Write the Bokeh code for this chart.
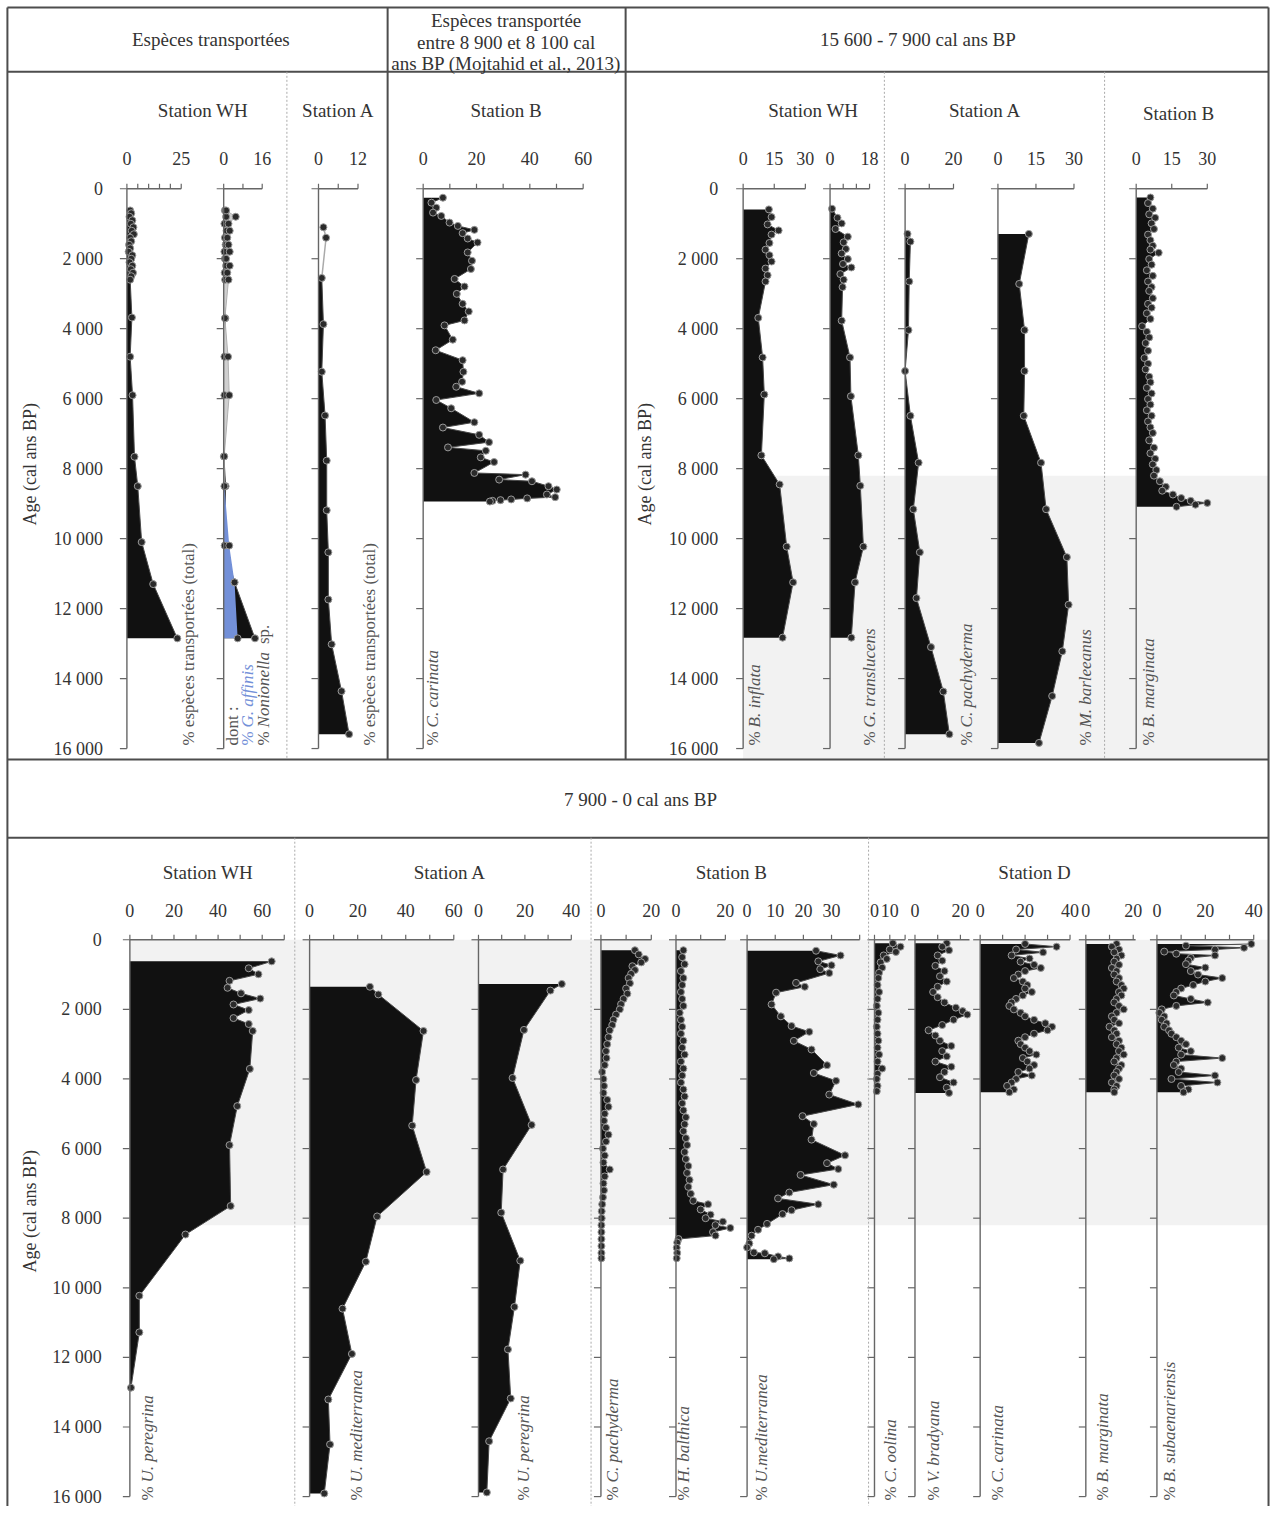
import numpy as np
from bokeh.plotting import figure
from bokeh.models import Range1d
from bokeh.embed import file_html
from bokeh.resources import INLINE
from bokeh.core.properties import value

# ------------------------------------------------------------------ data
AGE_MAX = 16000
AGE_TICKS = [0, 2000, 4000, 6000, 8000, 10000, 12000, 14000, 16000]
AGE_LABELS = ["0", "2 000", "4 000", "6 000", "8 000", "10 000", "12 000", "14 000", "16 000"]
SHADE_AGE = 8200

# --- Top: transported species
wh_tot_age = [620, 700, 800, 900, 1000, 1100, 1200, 1300, 1400, 1500, 1600, 1700, 1800, 1900, 2000,
              2100, 2200, 2300, 2400, 2500, 2600, 3680, 4800, 5900, 7660, 8500, 10100, 11300, 12850]
wh_tot_val = [1.5, 2.0, 1.2, 2.5, 1.8, 3.0, 2.2, 3.2, 1.5, 2.0, 1.0, 1.5, 0.8, 2.5, 2.0,
              1.2, 2.5, 1.8, 2.8, 2.0, 1.5, 2.3, 1.5, 2.6, 3.5, 5.0, 6.8, 12.1, 23.2]

wh_sub_age = [620, 800, 1000, 1200, 1400, 1600, 1800, 2000, 2200, 2400, 2600, 3700, 4800, 5900,
              7650, 8500, 10200, 11250, 12850]
nonio_val = [0.5, 1.0, 0.3, 1.2, 0.5, 0.8, 0.3, 0.5, 1.0, 0.4, 0.6, 0.7, 0.3, 0.3,
             0.1, 0.8, 0.4, 4.5, 13.0]
affin_val = [1.0, 5.0, 2.0, 2.5, 1.5, 2.0, 2.5, 1.0, 2.5, 1.5, 2.0, 0.5, 1.8, 2.3,
             0.2, 0.3, 2.3, 4.5, 5.8]

a_tot_age = [1100, 1400, 2550, 3870, 5230, 6480, 7770, 9190, 10390, 11740, 13020, 14360, 15590]
a_tot_val = [1.5, 2.3, 1.0, 1.5, 1.0, 2.0, 2.5, 2.5, 3.0, 3.0, 4.0, 7.0, 9.3]

car_top_age = [256, 398, 540, 682, 777, 967, 1062, 1175, 1270, 1422, 1535, 1820, 2057, 2294, 2578,
               2796, 3005, 3289, 3507, 3763, 3905, 4313, 4616, 4900, 5232, 5517, 5659, 5848, 6038,
               6275, 6673, 6825, 7033, 7242, 7393, 7488, 7678, 7810, 8123, 8171, 8313, 8360, 8502,
               8597, 8739, 8815, 8850, 8880, 8900, 8920, 8940]
car_top_val = [7.4, 3.1, 4.9, 3.7, 6.8, 9.9, 13.0, 19.2, 14.8, 16.7, 20.4, 16.7, 18.3, 17.9, 11.8,
               15.5, 12.6, 14.8, 17.1, 15.5, 8.0, 11.1, 4.7, 14.8, 15.1, 14.6, 12.4, 21.0, 4.9,
               10.5, 19.2, 7.4, 21.0, 24.7, 9.3, 23.5, 21.6, 26.6, 19.2, 38.4, 28.5, 40.8, 47.0,
               50.1, 46.4, 49.5, 39.0, 33.0, 29.0, 26.0, 25.0]

# --- Top: 15 600 - 7 900 cal ans BP
infl_age = [590, 810, 1020, 1190, 1310, 1550, 1740, 1900, 2080, 2280, 2470, 2650, 3690, 4820,
            5880, 7620, 8450, 10230, 11250, 12830]
infl_val = [12.4, 13.7, 11.8, 17.1, 13.7, 12.7, 10.8, 12.7, 13.7, 10.8, 11.8, 10.8, 7.3, 9.4,
            10.2, 8.8, 17.6, 21.0, 24.1, 19.0]
tran_age = [570, 830, 990, 1150, 1370, 1530, 1720, 1850, 2010, 2150, 2250, 2440, 2600, 2810,
            3770, 4820, 5930, 7620, 8490, 10230, 11250, 12830]
tran_val = [0.9, 3.4, 5.3, 2.5, 8.1, 6.2, 7.2, 5.3, 8.1, 5.9, 9.7, 4.7, 6.2, 5.7,
            5.3, 9.1, 9.5, 12.9, 13.8, 15.2, 11.4, 9.7]
pach_top_age = [1290, 1510, 2650, 4040, 5210, 6490, 7830, 9160, 10390, 11700, 13100, 14370, 15590]
pach_top_val = [1.0, 2.2, 1.7, 1.4, 0.0, 2.2, 5.6, 3.4, 6.1, 4.7, 10.7, 15.8, 18.3]
barl_age = [1290, 2720, 4040, 5210, 6490, 7830, 9160, 10530, 11890, 13220, 14500, 15840]
barl_val = [12.2, 8.4, 10.5, 10.5, 10.2, 17.0, 19.0, 27.2, 27.9, 25.4, 21.4, 16.2]
marg_top_age = [250, 410, 570, 730, 830, 990, 1150, 1310, 1470, 1630, 1740, 1830, 2010, 2170, 2330,
                2490, 2650, 2810, 2920, 3130, 3290, 3400, 3560, 3720, 3930, 4090, 4250, 4410, 4630,
                4840, 5000, 5160, 5370, 5530, 5690, 5850, 6010, 6170, 6330, 6490, 6650, 6820, 6980,
                7190, 7400, 7560, 7720, 7880, 8040, 8200, 8360, 8520, 8630, 8740, 8840, 8920, 8980,
                9030, 9090]
marg_top_val = [6.0, 5.0, 7.0, 5.5, 8.0, 6.5, 7.5, 5.0, 6.0, 7.0, 6.0, 9.5, 5.5, 6.5, 4.5,
                7.0, 5.0, 6.5, 5.5, 7.0, 5.0, 6.5, 4.5, 6.0, 2.5, 4.5, 5.5, 4.0, 5.0,
                3.5, 5.0, 4.0, 5.5, 6.0, 4.5, 6.5, 5.0, 6.0, 4.5, 6.5, 5.0, 6.0, 7.0,
                5.5, 7.5, 6.0, 8.0, 7.0, 8.5, 7.5, 10.0, 12.5, 11.0, 15.5, 19.0, 23.0, 30.0,
                25.0, 17.0]

# --- Bottom: 7 900 - 0 cal ans BP
uper_wh_age = [620, 820, 990, 1180, 1380, 1540, 1690, 1860, 2020, 2250, 2420, 2620, 3710, 4780,
               5900, 7650, 8470, 10230, 11280, 12870]
uper_wh_val = [64.3, 53.9, 58.3, 45.2, 44.3, 50.4, 59.1, 47.0, 53.9, 47.0, 53.9, 55.7, 54.4, 48.7,
               45.2, 45.7, 25.2, 4.3, 4.3, 0.5]
umed_a_age = [1350, 1570, 2620, 4030, 5340, 6670, 7950, 9250, 10600, 11900, 13210, 14500, 15910]
umed_a_val = [25.1, 28.6, 47.4, 44.3, 42.7, 48.7, 28.1, 23.4, 13.7, 17.6, 7.8, 8.5, 6.1]
uper_a_age = [1270, 1460, 2590, 3970, 5320, 6600, 7840, 9220, 10550, 11770, 13180, 14410, 15880]
uper_a_val = [35.9, 31.0, 19.6, 14.7, 22.9, 10.6, 9.8, 18.0, 15.5, 12.7, 13.9, 4.6, 3.6]

pach_b_age = [300, 420, 550, 650, 760, 870, 980, 1100, 1250, 1400, 1550, 1700, 1850, 2000, 2150,
              2300, 2450, 2600, 2800, 3000, 3200, 3400, 3600, 3800, 4000, 4200, 4400, 4600, 4800,
              5000, 5200, 5400, 5600, 5800, 6000, 6200, 6400, 6600, 6800, 7000, 7200, 7400, 7600,
              7800, 8000, 8200, 8400, 8600, 8800, 9000, 9150]
pach_b_val = [13.5, 15, 17.5, 16, 12.5, 13.5, 12, 11, 11.5, 10, 10.5, 9, 8, 7.5, 6,
              5, 4.5, 3.5, 3, 2.5, 2, 2.2, 1.5, 0.5, 1, 1.2, 1, 2.5, 3,
              1.5, 1.2, 2, 3, 2, 0.8, 1.5, 1, 3.5, 1.5, 1, 1.2, 0.8, 0.5,
              0.3, 0.3, 0.2, 0.2, 0.2, 0.2, 0.2, 0.2]
balt_age = [300, 500, 700, 900, 1100, 1300, 1500, 1700, 1900, 2100, 2300, 2500, 2700, 2900, 3100,
            3300, 3500, 3700, 3900, 4100, 4300, 4500, 4700, 4900, 5100, 5300, 5500, 5700, 5900,
            6100, 6300, 6500, 6700, 6900, 7100, 7300, 7500, 7600, 7750, 7900, 8000, 8100, 8200,
            8280, 8400, 8500, 8600, 8700, 8850, 9000, 9150]
balt_val = [3, 2.5, 3.5, 2, 3, 2.5, 2, 2.5, 3, 1.5, 2, 2.5, 2, 3, 2.5,
            3.5, 2, 3, 2.5, 2, 3, 3.5, 2.5, 3, 4, 3.5, 3, 4, 4.5,
            3.5, 4, 5, 4.5, 5.5, 5, 6, 7, 13, 10, 14, 12, 19, 16,
            22, 15, 16, 1, 0.5, 0.3, 0.5, 0.3]
umed_b_age = [315, 450, 620, 732, 845, 957, 1239, 1351, 1520, 1858, 2200, 2477, 2646, 2905, 3153,
              3604, 3829, 4054, 4448, 4730, 5068, 5293, 5743, 6194, 6419, 6588, 6757, 7038, 7263,
              7432, 7601, 7770, 7883, 8164, 8333, 8502, 8727, 8840, 8986, 9009, 9099, 9155, 9178]
umed_b_val = [24.5, 33.2, 25.3, 30.0, 26.0, 29.2, 17.4, 20.5, 10.3, 8.7, 12.0, 15.8, 22.1, 16.6, 22.9,
              28.4, 23.7, 31.6, 29.2, 39.5, 19.7, 23.7, 22.9, 34.8, 28.4, 32.4, 19.0, 30.8, 15.0,
              11.0, 25.3, 15.8, 12.6, 7.1, 3.9, 1.6, 0.8, 0.0, 2.4, 6.3, 11.0, 15.0, 9.5]

ool_age = [100, 200, 280, 350, 450, 550, 650, 800, 950, 1100, 1300, 1500, 1700, 1900, 2100, 2300,
           2500, 2700, 2900, 3100, 3300, 3500, 3700, 3850, 4000, 4200, 4350]
ool_val = [12, 17, 10, 14, 6, 8, 4, 5, 3, 2.5, 2, 3, 2, 1.5, 2.5, 2,
           1.5, 2, 2.5, 2, 3, 2, 5, 2, 1.5, 2, 1.5]
brad_age = [100, 200, 300, 450, 600, 750, 900, 1050, 1200, 1350, 1500, 1650, 1800, 1950, 2050, 2150,
            2300, 2450, 2600, 2750, 2900, 3050, 3200, 3350, 3500, 3650, 3800, 3950, 4100, 4250, 4400]
brad_val = [14, 12, 15, 10, 12, 9, 13, 11, 14, 10, 8, 10, 13, 18, 21, 23,
            17, 12, 6, 9, 11, 16, 12, 14, 9, 16, 13, 11, 17, 14, 15]
d_age = [120, 200, 280, 360, 450, 540, 630, 720, 810, 900, 1000, 1100, 1200, 1300, 1400, 1500,
         1600, 1700, 1800, 1900, 2000, 2100, 2200, 2300, 2400, 2500, 2600, 2700, 2800, 2900, 3000,
         3100, 3200, 3300, 3400, 3500, 3600, 3700, 3800, 3900, 4000, 4100, 4200, 4300, 4380]
car_d_val = [20, 34, 16, 28, 14, 22, 18, 24, 27, 20, 17, 15, 19, 21, 20, 23,
             19, 16, 14, 13, 15, 18, 20, 24, 29, 32, 30, 24, 20, 17, 18,
             20, 22, 25, 19, 21, 24, 22, 17, 23, 16, 14, 12, 15, 13]
marg_d_val = [13, 11, 14, 12, 15, 13, 12, 14, 11, 13, 12, 14, 13, 15, 16, 14,
              15, 13, 12, 14, 16, 13, 11, 12, 14, 10, 12, 13, 11, 14, 13,
              15, 14, 16, 13, 12, 15, 14, 13, 12, 14, 11, 13, 12, 12]
suba_age = [120, 170, 230, 280, 340, 400, 450, 520, 600, 700, 800, 900, 1000, 1100, 1200, 1300,
            1400, 1500, 1600, 1700, 1800, 1900, 2000, 2100, 2200, 2300, 2400, 2500, 2600, 2700,
            2800, 2900, 3000, 3100, 3200, 3300, 3400, 3500, 3600, 3700, 3800, 3900, 4000, 4100,
            4200, 4300, 4380]
suba_val = [39, 12, 36, 24, 3, 8, 24, 14, 13, 12, 20, 14, 17, 27, 20, 15,
            10, 8, 7, 14, 21, 8, 2, 1, 3, 2, 4, 3, 5, 6,
            8, 10, 12, 9, 14, 10, 27, 8, 7, 10, 9, 24, 6, 25,
            10, 13, 11]

# ------------------------------------------------------------------ style / layout
FONT = "Liberation Serif"
TXT = "#333333"
LAB = "#555555"
AX = "#666666"
BLUE = "#7390d8"
MK = 7
SEC_Y = {"top": (190, 755), "bot": (948, 1510)}
PAGE_W, PAGE_H = 1286, 1520

p = figure(width=1270, height=1506, x_range=Range1d(0, PAGE_W), y_range=Range1d(PAGE_H, 0),
           x_axis_location=None, y_axis_location=None, toolbar_location=None,
           output_backend="svg", min_border=0)
p.grid.visible = False
p.outline_line_color = None


def sec_sub(sec):
    return p.subplot(x_source=Range1d(0, PAGE_W), x_target=Range1d(0, PAGE_W),
                     y_source=Range1d(0, AGE_MAX), y_target=Range1d(*SEC_Y[sec]))


def panel_sub(sec, px0, px1, vref):
    return p.subplot(x_source=Range1d(0, vref), x_target=Range1d(px0, px1),
                     y_source=Range1d(0, AGE_MAX), y_target=Range1d(*SEC_Y[sec]))


# shading of the 8 200 interval
top_sec = sec_sub("top")
top_sec.quad(left=[752], right=[1284], top=[SHADE_AGE], bottom=[AGE_MAX * 1.02],
             fill_color="#f2f2f2", line_color=None)
bot_sec = sec_sub("bot")
bot_sec.quad(left=[131], right=[1284], top=[0], bottom=[SHADE_AGE],
             fill_color="#f2f2f2", line_color=None)


def pts(sub, vals, ages):
    sub.scatter(x=vals, y=ages, size=MK, fill_color="#2a2a2a", line_color="#9a9a9a", line_width=1)


def draw_series(sub, ages, vals, fill="#111111", line="#4a4a4a", area=True, points=True):
    if area:
        sub.harea(x1=[0] * len(vals), x2=vals, y=ages, fill_color=fill)
    sub.line(x=vals, y=ages, line_color=line, line_width=1)
    if points:
        pts(sub, vals, ages)


def draw_axes(sub, xmax, xticks, xlabels, ylab_off=None, xlab_off=-30):
    n = len(AGE_TICKS)
    sub.segment(x0=[0], y0=[0], x1=[0], y1=[AGE_MAX], line_color=AX, line_width=1.4)
    sub.segment(x0=[0], y0=[0], x1=[xmax], y1=[0], line_color=AX, line_width=1.4)
    sub.ray(x=[0] * n, y=AGE_TICKS, length=7, length_units="screen", angle=np.pi,
            line_color=AX, line_width=1.2)
    sub.ray(x=xticks, y=[0] * len(xticks), length=5, length_units="screen", angle=np.pi / 2,
            line_color=AX, line_width=1.2)
    sub.text(x=xlabels, y=[0] * len(xlabels), text=[str(v) for v in xlabels], y_offset=xlab_off,
             text_align="center", text_baseline="middle", text_font=value(FONT),
             text_font_size="18px", text_color=TXT)
    if ylab_off is not None:
        sub.text(x=[0] * n, y=AGE_TICKS, text=AGE_LABELS, x_offset=ylab_off,
                 text_align="right", text_baseline="middle", text_font=value(FONT),
                 text_font_size="18px", text_color=TXT)


def rng(a, b, s):
    return list(range(a, b + 1, s))


# ---------------- top section panels
s = panel_sub("top", 128, 183, 25)
draw_series(s, wh_tot_age, wh_tot_val)
draw_axes(s, 25, rng(0, 25, 5), [0, 25], ylab_off=-24)

s = panel_sub("top", 226, 265, 16)
draw_series(s, wh_sub_age, nonio_val, points=False)
k = wh_sub_age.index(8500)
s.harea(x1=[0] * (k + 1), x2=affin_val[:k + 1], y=wh_sub_age[:k + 1], fill_color="#cfcfcf")
s.line(x=affin_val[:k + 1], y=wh_sub_age[:k + 1], line_color="#b0b0b0", line_width=1)
s.harea(x1=[0] * (len(affin_val) - k), x2=affin_val[k:], y=wh_sub_age[k:], fill_color=BLUE)
pts(s, nonio_val, wh_sub_age)
pts(s, affin_val, wh_sub_age)
draw_axes(s, 16, [0, 8, 16], [0, 16])

s = panel_sub("top", 322, 362, 12)
s.line(x=a_tot_val[:3], y=a_tot_age[:3], line_color="#aaaaaa", line_width=1.5)
draw_series(s, a_tot_age[2:], a_tot_val[2:])
pts(s, a_tot_val[:2], a_tot_age[:2])
draw_axes(s, 12, [0, 6, 12], [0, 12])

s = panel_sub("top", 428, 590, 60)
draw_series(s, car_top_age, car_top_val)
draw_axes(s, 60, rng(0, 60, 10), [0, 20, 40, 60])

s = panel_sub("top", 752, 815, 30)
draw_series(s, infl_age, infl_val)
draw_axes(s, 30, [0, 15, 30], [0, 15, 30], ylab_off=-25)

s = panel_sub("top", 840, 880, 18)
draw_series(s, tran_age, tran_val)
draw_axes(s, 18, [0, 6, 12, 18], [0, 18])

s = panel_sub("top", 916, 965, 20)
draw_series(s, pach_top_age, pach_top_val)
draw_axes(s, 20, [0, 10, 20], [0, 20])

s = panel_sub("top", 1010, 1087, 30)
draw_series(s, barl_age, barl_val)
draw_axes(s, 30, [0, 15, 30], [0, 15, 30])

s = panel_sub("top", 1150, 1222, 30)
draw_series(s, marg_top_age, marg_top_val)
draw_axes(s, 30, [0, 15, 30], [0, 15, 30])

# ---------------- bottom section panels
s = panel_sub("bot", 131, 265, 60)
draw_series(s, uper_wh_age, uper_wh_val)
draw_axes(s, 70, rng(0, 70, 10), [0, 20, 40, 60], ylab_off=-28, xlab_off=-29)

s = panel_sub("bot", 313, 459, 60)
draw_series(s, umed_a_age, umed_a_val)
draw_axes(s, 60, rng(0, 60, 10), [0, 20, 40, 60], xlab_off=-29)

s = panel_sub("bot", 484, 578, 40)
draw_series(s, uper_a_age, uper_a_val)
draw_axes(s, 40, rng(0, 40, 10), [0, 20, 40], xlab_off=-29)

s = panel_sub("bot", 608, 659, 20)
draw_series(s, pach_b_age, pach_b_val)
draw_axes(s, 20, [0, 10, 20], [0, 20], xlab_off=-29)

s = panel_sub("bot", 684, 734, 20)
draw_series(s, balt_age, balt_val)
draw_axes(s, 20, [0, 10, 20], [0, 20], xlab_off=-29)

s = panel_sub("bot", 756, 870, 40)
draw_series(s, umed_b_age, umed_b_val)
draw_axes(s, 40, rng(0, 40, 10), [0, 10, 20, 30], xlab_off=-29)

s = panel_sub("bot", 885, 916, 20)
draw_series(s, ool_age, ool_val)
draw_axes(s, 20, [0, 10, 20], [0, 10], xlab_off=-29)

s = panel_sub("bot", 926, 972, 20)
draw_series(s, brad_age, brad_val)
draw_axes(s, 24, [0, 10, 20], [0, 20], xlab_off=-29)

s = panel_sub("bot", 992, 1083, 40)
draw_series(s, d_age, car_d_val)
draw_axes(s, 40, rng(0, 40, 10), [0, 20, 40], xlab_off=-29)

s = panel_sub("bot", 1099, 1147, 20)
draw_series(s, d_age, marg_d_val)
draw_axes(s, 21, [0, 10, 20], [0, 20], xlab_off=-29)

s = panel_sub("bot", 1171, 1269, 40)
draw_series(s, suba_age, suba_val)
draw_axes(s, 40, rng(0, 40, 10), [0, 20, 40], xlab_off=-29)

# ---------------- frame lines
p.segment(x0=[7, 7, 7, 7, 7, 1284, 392, 633], y0=[7, 72, 766, 845, 7, 7, 7, 7],
          x1=[1284, 1284, 1284, 1284, 7, 1284, 392, 633], y1=[7, 72, 766, 845, 1522, 1522, 766, 766],
          line_color="#4d4d4d", line_width=2)
p.segment(x0=[290, 895, 1118, 298, 598, 879], y0=[72, 72, 72, 845, 845, 845],
          x1=[290, 895, 1118, 298, 598, 879], y1=[766, 766, 766, 1522, 1522, 1522],
          line_color="#aaaaaa", line_width=1, line_dash="2 2")

# ---------------- header and station texts
hx = [213, 512, 512, 512, 929, 648,
      205, 342, 512, 823, 997, 1193, 210, 455, 740, 1047]
hy = [39, 20, 42, 64, 39, 806,
      111, 111, 111, 111, 111, 114, 880, 880, 880, 880]
ht = ["Espèces transportées", "Espèces transportée", "entre 8 900 et 8 100 cal",
      "ans BP (Mojtahid et al., 2013)", "15 600 - 7 900 cal ans BP", "7 900 - 0 cal ans BP",
      "Station WH", "Station A", "Station B", "Station WH", "Station A", "Station B",
      "Station WH", "Station A", "Station B", "Station D"]
p.text(x=hx, y=hy, text=ht, text_align="center", text_baseline="middle",
       text_font=value(FONT), text_font_size="19px", text_color=TXT)

p.text(x=[30, 653, 30], y=[468, 468, 1222], text=["Age (cal ans BP)"] * 3, angle=np.pi / 2,
       text_align="center", text_baseline="middle", text_font=value(FONT),
       text_font_size="18px", text_color=TXT)


def est_w(t, size):
    w = 0.0
    for c in t:
        if c == " ":
            w += 0.25
        elif c == "%":
            w += 0.83
        elif c in ".,:":
            w += 0.25
        elif c.isupper():
            w += 0.68
        elif c.isdigit():
            w += 0.5
        elif c in "iltfj":
            w += 0.29
        else:
            w += 0.5
    return w * size


def vlabel(x, yb, parts, size=17):
    off = 0.0
    for t, it, col, gap in parts:
        off += gap
        p.text(x=[x], y=[yb], text=[t], angle=np.pi / 2, y_offset=-off,
               text_align="left", text_baseline="middle", text_font=value(FONT),
               text_font_style="italic" if it else "normal", text_font_size=f"{size}px",
               text_color=col)
        off += est_w(t, size)


def sp(x, yb, name):
    vlabel(x, yb, [("%", False, LAB, 0), (name, True, LAB, 4)])


vlabel(190, 752, [("% espèces transportées (total)", False, LAB, 0)])
vlabel(235, 752, [("dont :", False, LAB, 0)])
vlabel(250, 752, [("%", False, BLUE, 0), ("G. affinis", True, BLUE, 4)])
vlabel(266, 752, [("%", False, LAB, 0), ("Nonionella", True, LAB, 4), ("sp.", False, LAB, 6)])
vlabel(374, 752, [("% espèces transportées (total)", False, LAB, 0)])
sp(437, 752, "C. carinata")
sp(764, 752, "B. inflata")
sp(880, 752, "G. translucens")
sp(978, 752, "C. pachyderma")
sp(1099, 752, "M. barleeanus")
sp(1162, 752, "B. marginata")

sp(149, 1514, "U. peregrina")
sp(360, 1514, "U. mediterranea")
sp(530, 1514, "U. peregrina")
sp(620, 1514, "C. pachyderma")
sp(692, 1514, "H. balthica")
sp(771, 1514, "U.mediterranea")
sp(901, 1514, "C. oolina")
sp(945, 1514, "V. bradyana")
sp(1010, 1514, "C. carinata")
sp(1116, 1514, "B. marginata")
sp(1184, 1514, "B. subaenariensis")

open("out.html", "w").write(file_html(p, INLINE))
